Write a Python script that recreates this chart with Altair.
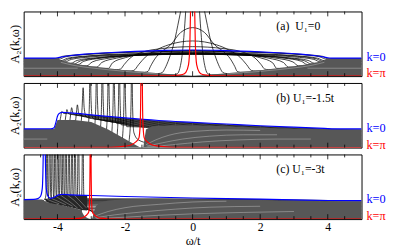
import altair as alt
import pandas as pd

W, H = 345, 66
FONT = "Liberation Serif"
X_DOMAIN = [-5, 5]
Y_DOMAIN = [0, 68]
MAJOR_TICKS = [-4, -2, 0, 2, 4]
MINOR_TICKS = [-4.5, -3.5, -3, -2.5, -1.5, -1, -0.5, 0.5, 1, 1.5, 2.5, 3, 3.5, 4.5]

PANEL_LABELS = ["(a)\u00a0 U\u2081=0", "(b) U\u2081=-1.5t", "(c) U\u2081=-3t"]
K_LABELS = ["k=0", "k=\u03c0"]
K0_LEVEL = [20.5, 20.5, 21]
KPI_LEVEL = [3, 3, 3]
Y_TITLE = "A\u2082(k,\u03c9)"
X_TITLE = "\u03c9/t"

# ---------------- panel (a): U1 = 0 ----------------
A_RED = [(-5, 0), (-0.6, 0.4), (-0.45, 0.9), (-0.3, 1.7), (-0.2, 4), (-0.12, 12), (-0.08, 35), (-0.05, 90),
         (0, 250), (0.05, 90), (0.08, 35), (0.12, 12), (0.2, 4), (0.3, 1.7), (0.45, 0.9), (0.6, 0.4), (5, 0)]
A_BLUE = [(-5, 19), (-4.1, 19), (-4.0, 19.3), (-3.9, 20), (-3.6, 21.7), (-3.2, 23.2), (-2.67, 24.3), (-1.7, 26),
          (-0.8, 27.1), (0, 27.5), (0.8, 27.1), (1.7, 26), (2.67, 24.3), (3.2, 23.2), (3.6, 21.7), (3.9, 20),
          (4.0, 19.3), (4.1, 19), (5, 19)]
A_CURVES = [
    [(-5, 1.36), (-0.55, 1.4), (-0.45, 2.5), (-0.38, 8), (-0.3, 25), (-0.22, 60), (-0.12, 120), (0, 200),
     (0.12, 120), (0.22, 60), (0.3, 25), (0.38, 8), (0.45, 2.5), (0.55, 1.4), (5, 1.36)],
    [(-5, 2.71), (-1.0, 2.75), (-0.89, 4), (-0.82, 8), (-0.7, 18), (-0.55, 35), (-0.4, 60), (-0.2, 95), (0, 110),
     (0.2, 95), (0.4, 60), (0.55, 35), (0.7, 18), (0.82, 8), (0.89, 4), (1.0, 2.75), (5, 2.71)],
    [(-5, 4.07), (-1.42, 4.1), (-1.32, 5), (-1.25, 10), (-1.1, 19), (-0.94, 25), (-0.65, 33), (-0.35, 46), (0, 51),
     (0.35, 46), (0.65, 33), (0.94, 25), (1.1, 19), (1.25, 10), (1.32, 5), (1.42, 4.1), (5, 4.07)],
    [(-5, 5.43), (-1.85, 5.45), (-1.74, 6), (-1.6, 12), (-1.4, 20), (-1.1, 27), (-0.7, 33), (0, 37),
     (0.7, 33), (1.1, 27), (1.4, 20), (1.6, 12), (1.74, 6), (1.85, 5.45), (5, 5.43)],
    [(-5, 6.79), (-2.25, 6.8), (-2.13, 7.5), (-2.03, 12), (-1.85, 19), (-1.5, 25), (-0.9, 29), (0, 31),
     (0.9, 29), (1.5, 25), (1.85, 19), (2.03, 12), (2.13, 7.5), (2.25, 6.8), (5, 6.79)],
    [(-5, 8.14), (-2.49, 8.14), (-2.37, 14.0), (-1.99, 19.4), (-1.25, 24.5), (0, 27), (1.25, 24.5), (1.99, 19.4),
     (2.37, 14.0), (2.49, 8.14), (5, 8.14)],
    [(-5, 9.5), (-2.83, 9.5), (-2.69, 14.3), (-2.26, 18.8), (-1.42, 22.9), (0, 25), (1.42, 22.9), (2.26, 18.8),
     (2.69, 14.3), (2.83, 9.5), (5, 9.5)],
    [(-5, 10.86), (-3.13, 10.86), (-2.97, 14.9), (-2.5, 18.7), (-1.57, 22.2), (0, 24), (1.57, 22.2), (2.5, 18.7),
     (2.97, 14.9), (3.13, 10.86), (5, 10.86)],
    [(-5, 12.21), (-3.39, 12.21), (-3.22, 15.6), (-2.71, 18.9), (-1.7, 21.8), (0, 23.3), (1.7, 21.8), (2.71, 18.9),
     (3.22, 15.6), (3.39, 12.21), (5, 12.21)],
    [(-5, 13.57), (-3.6, 13.57), (-3.42, 16.5), (-2.88, 19.2), (-1.8, 21.8), (0, 23), (1.8, 21.8), (2.88, 19.2),
     (3.42, 16.5), (3.6, 13.57), (5, 13.57)],
    [(-5, 14.93), (-3.78, 14.93), (-3.59, 17.6), (-3.02, 20.1), (-1.89, 22.4), (0, 23.5), (1.89, 22.4),
     (3.02, 20.1), (3.59, 17.6), (3.78, 14.93), (5, 14.93)],
    [(-5, 16.29), (-3.9, 16.29), (-3.7, 18.8), (-3.12, 21.2), (-1.95, 23.4), (0, 24.5), (1.95, 23.4), (3.12, 21.2),
     (3.7, 18.8), (3.9, 16.29), (5, 16.29)],
    [(-5, 17.64), (-3.97, 17.64), (-3.77, 20.2), (-3.18, 22.7), (-1.99, 24.9), (0, 26), (1.99, 24.9), (3.18, 22.7),
     (3.77, 20.2), (3.97, 17.64), (5, 17.64)],
    [(-5, 18.3), (-4.0, 18.3), (-3.85, 20.8), (-3.3, 22.6), (-2.2, 24.8), (0, 26.8), (2.2, 24.8), (3.3, 22.6),
     (3.85, 20.8), (4.0, 18.3), (5, 18.3)],
    [(-5, 15.6), (-3.85, 15.6), (-3.66, 18.2), (-3.1, 20.8), (-1.9, 22.9), (0, 24.0), (1.9, 22.9), (3.1, 20.8),
     (3.66, 18.2), (3.85, 15.6), (5, 15.6)],
    [(-5, 12.9), (-3.5, 12.9), (-3.32, 16.0), (-2.8, 19.0), (-1.75, 21.8), (0, 23.1), (1.75, 21.8), (2.8, 19.0),
     (3.32, 16.0), (3.5, 12.9), (5, 12.9)],
]
A_GRAY = [(-5, 19), (-4.0, 19), (-3.9, 16.3), (-3.7, 14.6), (-3.5, 12.9), (-3.0, 10.3), (-2.5, 8.2), (-2.0, 6.3),
          (-1.5, 4.6), (-1.0, 3.0), (-0.5, 1.5), (0, 0.3), (0.5, 1.5), (1.0, 3.0), (1.5, 4.6), (2.0, 6.3),
          (2.5, 8.2), (3.0, 10.3), (3.5, 12.9), (3.7, 14.6), (3.9, 16.3), (4.0, 19), (5, 19)]
A_WHITE = [
    [(-3.9, 14.5), (-3.5, 11.2), (-3.0, 8.6), (-2.5, 6.7), (-2.0, 5.0), (-1.5, 3.5), (-1.0, 2.2)],
    [(1.0, 2.2), (1.5, 3.5), (2.0, 5.0), (2.5, 6.7), (3.0, 8.6), (3.5, 11.2), (3.9, 14.5)],
    [(-5, 8.3), (-3.4, 8.3)],
    [(3.4, 8.3), (5, 8.3)],
]

# ---------------- panel (b): U1 = -1.5t ----------------
B_RED = [(-5, 0), (-2.4, 0.3), (-2.0, 1.5), (-1.81, 3), (-1.68, 6), (-1.59, 10), (-1.55, 25), (-1.53, 80),
         (-1.51, 250), (-1.49, 80), (-1.47, 25), (-1.43, 10), (-1.34, 6), (-1.21, 3), (-1.0, 1.5), (-0.6, 0.3),
         (5, 0)]
B_BLUE = [(-5, 19.7), (-4.2, 19.8), (-4.1, 21), (-4.05, 26), (-4.0, 33), (-3.95, 36), (-3.85, 37), (-3.6, 36.5),
          (-3, 34.5), (-2, 31.2), (-1, 28.5), (0, 26.6), (1, 24.8), (2, 23), (3, 21.5), (3.9, 20.2), (4.2, 19.7),
          (5, 19.7)]
B_CURVES = [
    [(-5, 18.29), (-4.0, 18.3), (-3.95, 24), (-3.9, 33), (-3.87, 38), (-3.82, 36), (-3.7, 35.8), (-3, 33.8),
     (-2, 30.5), (-1, 27.8), (0, 25.9), (2, 22.3), (4, 19.5), (5, 18.29)],
    [(-5, 16.89), (-3.84, 16.9), (-3.78, 26), (-3.75, 34), (-3.72, 40), (-3.68, 36), (-3.6, 35), (-3, 33),
     (-2, 29.8), (-1, 27.1), (0, 25.2), (2, 21.6), (4, 18.6), (5, 16.89)],
    [(-5, 15.48), (-3.7, 15.5), (-3.64, 26), (-3.61, 35), (-3.58, 42), (-3.54, 36), (-3.45, 34.2), (-3, 32.2),
     (-2, 29.1), (-1, 26.4), (0, 24.5), (2, 20.9), (4, 17.7), (5, 15.48)],
    [(-5, 14.07), (-3.53, 14.1), (-3.47, 26), (-3.44, 36), (-3.41, 45), (-3.37, 36), (-3.28, 33.2), (-3, 31.4),
     (-2, 28.4), (-1, 25.7), (0, 23.8), (2, 20.2), (4, 16.8), (5, 14.07)],
    [(-5, 12.66), (-3.35, 12.7), (-3.3, 25), (-3.27, 42), (-3.24, 63), (-3.21, 42), (-3.15, 32.4), (-3, 30.6),
     (-2, 27.7), (-1, 25), (0, 23.1), (2, 19.5), (4, 15.9), (5, 12.66)],
    [(-5, 11.26), (-3.13, 11.3), (-3.08, 25), (-3.05, 55), (-3.03, 130), (-3.01, 55), (-2.97, 32), (-2.9, 30),
     (-2, 27), (-1, 24.3), (0, 22.4), (2, 18.8), (4, 15), (5, 11.26)],
    [(-5, 9.85), (-2.94, 9.9), (-2.89, 25), (-2.86, 55), (-2.84, 130), (-2.82, 55), (-2.78, 30), (-2.7, 29),
     (-2, 26.3), (-1, 23.6), (0, 21.7), (2, 18.1), (4, 14), (5, 9.85)],
    [(-5, 8.44), (-2.77, 8.5), (-2.72, 24), (-2.69, 55), (-2.67, 130), (-2.65, 55), (-2.61, 28), (-2.5, 27.6),
     (-2, 25.6), (-1, 22.9), (0, 21), (2, 17.4), (4, 13), (5, 8.44)],
    [(-5, 7.04), (-2.59, 7.1), (-2.54, 23), (-2.51, 55), (-2.49, 130), (-2.47, 55), (-2.43, 27), (-2.3, 26.5),
     (-2, 25), (-1, 22.2), (0, 20.3), (2, 16.7), (4, 12), (5, 7.04)],
    [(-5, 5.63), (-2.43, 5.7), (-2.38, 22), (-2.35, 55), (-2.33, 130), (-2.31, 55), (-2.27, 26), (-2.1, 25),
     (-1, 21.5), (0, 19.6), (2, 16), (4, 11), (5, 5.63)],
    [(-5, 4.22), (-2.27, 4.3), (-2.22, 20), (-2.19, 55), (-2.17, 130), (-2.15, 55), (-2.11, 24), (-1.95, 23.5),
     (-1, 20.8), (0, 18.9), (2, 15.3), (4, 10), (5, 4.22)],
    [(-5, 2.81), (-2.11, 2.9), (-2.06, 18), (-2.03, 55), (-2.01, 130), (-1.99, 55), (-1.95, 22), (-1.8, 22),
     (-1, 20), (0, 18.2), (2, 14.6), (4, 9), (5, 2.81)],
    [(-5, 1.41), (-1.92, 1.5), (-1.86, 14), (-1.82, 50), (-1.8, 130), (-1.78, 50), (-1.74, 16), (-1.6, 8),
     (-1.3, 5), (-1, 10), (0, 15), (2, 13), (4, 8), (5, 1.41)],
]
B_GRAY = [(-5, 19.7), (-4.1, 19.7), (-4.0, 29), (-3.5, 29), (-3.0, 27), (-2.5, 19), (-2.0, 9), (-1.7, 3),
          (-1.55, 0), (-1.46, 0), (-1.42, 10), (-1.38, 19), (-1.2, 22.5), (-0.6, 23.5), (0, 23.5), (1, 22.5),
          (2, 21), (3, 19.8), (4, 19.2), (5, 19.2)]
B_WHITE = [
    [(-1.38, 3), (-1.1, 8), (-0.7, 13), (0, 17), (1, 18.5), (2, 18)],
    [(-1.36, 1.5), (-0.9, 5), (-0.3, 9), (0.5, 12), (1.5, 13.5), (2.5, 13.5)],
    [(-1.33, 0.6), (-0.6, 3), (0.3, 6), (1.3, 8), (2.5, 9), (3.5, 9)],
    [(-5, 9), (-4.3, 9)],
]

# ---------------- panel (c): U1 = -3t ----------------
C_RED = [(-5, 0), (-3.9, 0.2), (-3.5, 0.5), (-3.3, 1), (-3.2, 2.5), (-3.12, 5), (-3.07, 8), (-3.05, 20),
         (-3.035, 60), (-3.02, 250), (-3.005, 60), (-2.99, 20), (-2.97, 8), (-2.92, 5), (-2.84, 2.5),
         (-2.75, 1), (-2.5, 0.4), (-2.0, 0.1), (5, 0)]
C_BLUE = [(-5, 20.5), (-4.7, 20.7), (-4.58, 21.5), (-4.5, 24), (-4.45, 32), (-4.42, 70), (-4.39, 250),
          (-4.36, 70), (-4.33, 32), (-4.28, 24), (-4.2, 21.8), (-4.1, 23), (-3.97, 25.5), (-3.85, 26),
          (-3.6, 25.5), (-3.0, 24.8), (-2, 23.8), (-1, 23), (0, 22.2), (1, 21.5), (2, 21), (3, 20.3),
          (4, 19.6), (5, 19.4)]
C_CURVES = [
    [(-5, 19.04), (-4.41, 19.64), (-4.36, 22.04), (-4.34, 26), (-4.325, 75), (-4.31, 250), (-4.295, 75),
     (-4.28, 26), (-4.24, 21), (-3.81, 21.5), (0, 21.2), (5, 19.04)],
    [(-5, 17.57), (-4.33, 18.17), (-4.28, 20.57), (-4.26, 26), (-4.245, 75), (-4.23, 250), (-4.215, 75),
     (-4.2, 26), (-4.16, 20.5), (-3.73, 20.5), (0, 20.5), (5, 17.57)],
    [(-5, 16.11), (-4.25, 16.71), (-4.2, 19.11), (-4.18, 26), (-4.165, 75), (-4.15, 250), (-4.135, 75),
     (-4.12, 26), (-4.08, 20), (-3.65, 19.5), (0, 19.8), (5, 16.11)],
    [(-5, 14.64), (-4.17, 15.24), (-4.12, 17.64), (-4.1, 26), (-4.085, 75), (-4.07, 250), (-4.055, 75),
     (-4.04, 26), (-4.0, 19.5), (-3.57, 18.5), (0, 19), (5, 14.64)],
    [(-5, 13.18), (-4.09, 13.78), (-4.04, 16.18), (-4.02, 26), (-4.005, 75), (-3.99, 250), (-3.975, 75),
     (-3.96, 26), (-3.92, 19), (-3.49, 17.5), (0, 18), (5, 13.18)],
    [(-5, 11.71), (-4.01, 12.31), (-3.96, 14.71), (-3.94, 26), (-3.925, 75), (-3.91, 250), (-3.895, 75),
     (-3.88, 26), (-3.84, 18.5), (-3.41, 16.5), (0, 17), (5, 11.71)],
    [(-5, 10.25), (-3.93, 10.85), (-3.88, 13.25), (-3.86, 26), (-3.845, 75), (-3.83, 250), (-3.815, 75),
     (-3.8, 26), (-3.76, 18), (-3.33, 15.5), (0, 16), (5, 10.25)],
    [(-5, 8.79), (-3.85, 9.39), (-3.8, 11.79), (-3.78, 26), (-3.765, 75), (-3.75, 250), (-3.735, 75),
     (-3.72, 26), (-3.68, 17.5), (-3.25, 14), (0, 14.5), (5, 8.79)],
    [(-5, 7.32), (-3.76, 7.92), (-3.71, 10.32), (-3.69, 26), (-3.675, 75), (-3.66, 250), (-3.645, 75),
     (-3.63, 26), (-3.59, 17), (-3.16, 12.5), (0, 13), (5, 7.32)],
    [(-5, 5.86), (-3.67, 6.46), (-3.62, 8.86), (-3.6, 26), (-3.585, 75), (-3.57, 250), (-3.555, 75),
     (-3.54, 26), (-3.5, 16.5), (-3.07, 11), (0, 11.5), (5, 5.86)],
    [(-5, 4.39), (-3.58, 4.99), (-3.53, 7.39), (-3.51, 26), (-3.495, 75), (-3.48, 250), (-3.465, 75),
     (-3.45, 26), (-3.41, 16), (-2.98, 9.5), (0, 10), (5, 4.39)],
    [(-5, 2.93), (-3.48, 3.53), (-3.43, 5.93), (-3.41, 26), (-3.395, 75), (-3.38, 250), (-3.365, 75),
     (-3.35, 26), (-3.31, 15.5), (-2.88, 8), (0, 8), (5, 2.93)],
    [(-5, 1.46), (-3.35, 2.06), (-3.3, 4.46), (-3.28, 26), (-3.265, 75), (-3.25, 250), (-3.235, 75),
     (-3.22, 26), (-3.18, 14), (-2.75, 5.5), (0, 5), (5, 1.46)],
]
C_GRAY = [(-5, 20.3), (-4.6, 20.5), (-4.45, 20.5), (-4.35, 18), (-4.0, 15.5), (-3.6, 12.5), (-3.3, 9.5),
          (-3.25, 6), (-3.2, 3), (-3.1, 1), (-3.02, 0), (-2.97, 1), (-2.93, 6), (-2.87, 13), (-2.75, 17.5),
          (-2.5, 19.5), (-2.0, 20.8), (-1, 21.5), (0, 21), (1, 20.5), (2, 20), (3, 19.3), (4, 18.8), (5, 18.7)]
C_HATCH = [(-4.38, 21.5, 20.5), (-4.3, 21.3, 17.6), (-4.2, 21.4, 16.8), (-4.1, 22.6, 16.0), (-4.0, 24.6, 15.5),
           (-3.9, 25.4, 14.7), (-3.8, 25.6, 14.0), (-3.6, 25.3, 12.5), (-3.4, 25.1, 10.5), (-3.3, 25.0, 9.5),
           (-3.2, 24.9, 9.2), (-3.12, 24.8, 9.0)]
C_WHITE = [
    [(-4.3, 20.8), (-4.15, 18.5), (-3.95, 16.2)],
    [(-4.18, 21.8), (-4.0, 19), (-3.75, 15)],
    [(-4.05, 24), (-3.85, 19.5), (-3.55, 13.5)],
    [(-3.9, 25), (-3.7, 20), (-3.4, 11.5)],
    [(-3.7, 25), (-3.5, 19.5), (-3.25, 10.5)],
    [(-3.5, 25), (-3.33, 19), (-3.15, 12)],
    [(-2.9, 3), (-2.5, 8), (-2, 12), (-1, 15.5), (0, 18), (1, 18.8)],
    [(-2.88, 1.5), (-2.3, 4.5), (-1.5, 7.5), (-0.5, 10.5), (0.5, 12.5), (2, 13.5)],
    [(-2.85, 0.5), (-2, 2), (-1, 4), (0, 5.5), (1.5, 7), (3, 8)],
]


def line_df(curves):
    rows = []
    for c, pts in enumerate(curves):
        for i, (x, y) in enumerate(pts):
            rows.append({"c": c, "i": i, "x": x, "y": y})
    return pd.DataFrame(rows)


def panel(idx, curves, blue, red, gray, whites, hatch=None, bottom=False):
    xs = alt.Scale(domain=X_DOMAIN, nice=False, zero=False)
    ys = alt.Scale(domain=Y_DOMAIN, nice=False, zero=False)
    if bottom:
        xaxis = alt.Axis(values=MAJOR_TICKS, ticks=False, tickSize=0, domain=False, grid=False,
                         labelFontSize=12, labelPadding=3, labelExpr="'' + datum.value",
                         title=X_TITLE, titleFontSize=12.5, titlePadding=2)
    else:
        xaxis = None
    yaxis = alt.Axis(labels=False, ticks=False, tickSize=0, domain=False, grid=False,
                     title=Y_TITLE, titleFontSize=12.5, titlePadding=2)
    X = alt.X("x:Q", scale=xs, axis=xaxis)
    Y = alt.Y("y:Q", scale=ys, axis=yaxis)

    layers = []
    layers.append(alt.Chart(line_df(curves)).mark_line(
        color="black", strokeWidth=0.75, clip=True, interpolate="monotone").encode(
        x=X, y=Y, detail="c:N", order="i:Q"))
    gdf = pd.DataFrame(gray, columns=["x", "y"])
    layers.append(alt.Chart(gdf).mark_area(color="#575757", clip=True, interpolate="linear").encode(
        x=X, y=Y, y2=alt.value(H)))
    if hatch is not None:
        hdf = pd.DataFrame(hatch, columns=["x", "top", "bot"])
        layers.append(alt.Chart(hdf).mark_area(color="#262626", clip=True, interpolate="linear").encode(
            x=X, y=alt.Y("top:Q", scale=ys, axis=yaxis), y2="bot:Q"))
    layers.append(alt.Chart(line_df(whites)).mark_line(
        color="white", strokeWidth=0.6, opacity=0.5, clip=True, interpolate="monotone").encode(
        x=X, y=Y, detail="c:N", order="i:Q"))
    layers.append(alt.Chart(line_df([blue])).mark_line(
        color="#0000ff", strokeWidth=1.2, clip=True, interpolate="monotone").encode(
        x=X, y=Y, order="i:Q"))
    layers.append(alt.Chart(line_df([red])).mark_line(
        color="#ff0000", strokeWidth=1.2, clip=True, interpolate="monotone").encode(
        x=X, y=Y, order="i:Q"))
    minor = pd.DataFrame({"x": MINOR_TICKS})
    major = pd.DataFrame({"x": MAJOR_TICKS})
    for df, ln in ((minor, 3), (major, 5)):
        layers.append(alt.Chart(df).mark_rule(color="black", strokeWidth=0.8).encode(
            x=X, y=alt.value(0), y2=alt.value(ln)))
        layers.append(alt.Chart(df).mark_rule(color="black", strokeWidth=0.8).encode(
            x=X, y=alt.value(H), y2=alt.value(H - ln)))
    layers.append(alt.Chart(pd.DataFrame({"t": [PANEL_LABELS[idx]]})).mark_text(
        align="left", baseline="middle", font=FONT, fontSize=12, color="black").encode(
        x=alt.value(258), y=alt.value(15), text="t:N"))
    kdf = pd.DataFrame({"t": K_LABELS, "y": [K0_LEVEL[idx], KPI_LEVEL[idx]], "col": ["#0000ff", "#ff0000"]})
    layers.append(alt.Chart(kdf).mark_text(
        align="left", baseline="middle", font=FONT, fontSize=12.5).encode(
        x=alt.value(W + 5), y=Y, text="t:N", color=alt.Color("col:N", scale=None)))
    return alt.layer(*layers).properties(width=W, height=H)


pa = panel(0, A_CURVES, A_BLUE, A_RED, A_GRAY, A_WHITE)
pb = panel(1, B_CURVES, B_BLUE, B_RED, B_GRAY, B_WHITE)
pc = panel(2, C_CURVES, C_BLUE, C_RED, C_GRAY, C_WHITE, hatch=C_HATCH, bottom=True)

chart = alt.vconcat(pa, pb, pc, spacing=7, bounds="flush").properties(
    padding={"left": 0, "top": 0, "right": 0, "bottom": 0}
).configure_view(stroke="black", strokeWidth=1).configure_axis(
    labelFont=FONT, titleFont=FONT, titleFontWeight="normal", labelColor="black", titleColor="black"
)

chart.save("out.html", embed_options={"renderer": "svg", "actions": False})
